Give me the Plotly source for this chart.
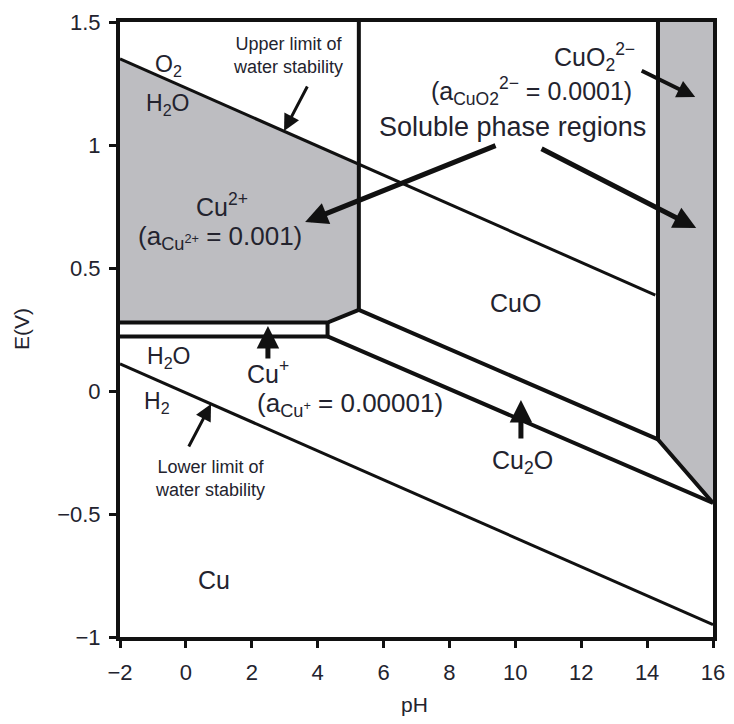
import plotly.graph_objects as go

# ---- data (pH, E in V) ----
upper_water_pH = [-2, 14.25]
upper_water_E = [1.35, 0.39]
lower_water_pH = [-2, 16]
lower_water_E = [0.11, -0.95]

cu2_region_pH = [-2, 5.25, 5.25, 4.3, -2]
cu2_region_E = [1.35, 0.92, 0.33, 0.278, 0.278]

cuo2_region_pH = [14.33, 16, 16, 14.33]
cuo2_region_E = [1.5, 1.5, -0.455, -0.197]

cup_bottom_pH = [-2, 4.3, 4.3]
cup_bottom_E = [0.222, 0.222, 0.278]

cuo_cu2o_pH = [5.25, 14.33]
cuo_cu2o_E = [0.33, -0.197]
cu2o_cu_pH = [4.3, 16]
cu2o_cu_E = [0.222, -0.455]
cuo_cuo2_pH = [14.33, 14.33, 16]
cuo_cuo2_E = [1.5, -0.197, -0.455]
cu2_cuo_pH = [5.25, 5.25]
cu2_cuo_E = [1.5, 0.33]

x_ticks = [-2, 0, 2, 4, 6, 8, 10, 12, 14, 16]
y_ticks = [-1, -0.5, 0, 0.5, 1, 1.5]

GRAY = "#bdbdc1"
TXT = "#23232e"
FONT = "Liberation Sans, Arial, sans-serif"

fig = go.Figure()

def poly(xs, ys):
    fig.add_trace(go.Scatter(x=xs, y=ys, fill="toself", fillcolor=GRAY,
                             mode="lines", line=dict(width=0, color=GRAY),
                             hoverinfo="skip", showlegend=False))

def line(xs, ys, w=4):
    fig.add_trace(go.Scatter(x=xs, y=ys, mode="lines",
                             line=dict(color="#111111", width=w),
                             hoverinfo="skip", showlegend=False))

poly(cu2_region_pH, cu2_region_E)
poly(cuo2_region_pH, cuo2_region_E)

line(upper_water_pH, upper_water_E, 3)
line(lower_water_pH, lower_water_E, 3)
line(cu2_region_pH[2:], cu2_region_E[2:])
line(cup_bottom_pH, cup_bottom_E)
line(cuo_cu2o_pH, cuo_cu2o_E)
line(cu2o_cu_pH, cu2o_cu_E)
line(cuo_cuo2_pH, cuo_cuo2_E)
line(cu2_cuo_pH, cu2_cuo_E)

annotations = []

def txt(x, y, s, size=24):
    annotations.append(dict(x=x, y=y, xref="x", yref="y", text=s, showarrow=False,
                            xanchor="center", yanchor="middle",
                            font=dict(size=size, color=TXT, family=FONT)))

def arrow(x0, y0, x1, y1, w=4, hs=1.0):
    annotations.append(dict(x=x1, y=y1, ax=x0, ay=y0, xref="x", yref="y",
                            axref="x", ayref="y", text="", showarrow=True,
                            arrowhead=2, arrowsize=hs, arrowwidth=w,
                            arrowcolor="#111111", standoff=0, startstandoff=0))

txt(-0.54, 1.325, "O<sub>2</sub>", 23)
txt(-0.57, 1.163, "H<sub>2</sub>O", 23)
txt(3.1, 1.362, "Upper limit of<br>water stability", 18)
txt(1.1, 0.756, "Cu<sup>2+</sup>", 25)
txt(1.04, 0.626, "(a<sub>Cu<sup>2+</sup></sub> = 0.001)", 26)
txt(9.9, 1.073, "Soluble phase regions", 27)
txt(12.39, 1.358, "CuO<sub>2</sub><sup>2\u2212</sup>", 25)
txt(10.48, 1.22, "(a<sub>CuO2</sub><sup>2\u2212</sup> = 0.0001)", 25)
txt(9.99, 0.358, "CuO", 25)
txt(-0.54, 0.138, "H<sub>2</sub>O", 23)
txt(-0.88, -0.045, "H<sub>2</sub>", 23)
txt(2.49, 0.077, "Cu<sup>+</sup>", 25)
txt(4.98, -0.053, "(a<sub>Cu<sup>+</sup></sub> = 0.00001)", 26)
txt(10.23, -0.289, "Cu<sub>2</sub>O", 25)
txt(0.73, -0.354, "Lower limit of<br>water stability", 18)
txt(0.85, -0.768, "Cu", 25)

arrow(3.71, 1.244, 2.98, 1.057, 3, 1.1)
arrow(9.445, 1.0, 3.62, 0.687, 5, 0.9)
arrow(10.75, 0.988, 15.49, 0.663, 5, 0.9)
arrow(13.79, 1.305, 15.46, 1.195, 4, 0.9)
arrow(2.49, 0.126, 2.49, 0.264, 5, 0.9)
arrow(10.17, -0.199, 10.17, -0.037, 5, 0.9)
arrow(0.064, -0.232, 0.763, -0.053, 3, 1.1)

annotations.append(dict(x=-0.166, y=0.5, xref="paper", yref="paper", text="E(V)",
                        showarrow=False, textangle=-90, xanchor="center", yanchor="middle",
                        font=dict(size=21, color=TXT, family=FONT)))
annotations.append(dict(x=0.497, y=-0.11, xref="paper", yref="paper", text="pH",
                        showarrow=False, xanchor="center", yanchor="middle",
                        font=dict(size=21, color=TXT, family=FONT)))

# page body has an 8px margin, so the figure is sized to sit where the reference is
fig.update_layout(
    width=726, height=716,
    margin=dict(l=112, r=21, t=14, b=87, autoexpand=False),
    paper_bgcolor="white", plot_bgcolor="white",
    showlegend=False,
    font=dict(family=FONT, color=TXT, size=22),
    annotations=annotations,
)

fig.update_xaxes(range=[-2, 16], tickvals=x_ticks, showgrid=False, zeroline=False,
                 showline=True, linecolor="#111111", linewidth=4, mirror=True,
                 ticks="outside", ticklen=7, tickwidth=3, tickcolor="#111111",
                 automargin=False,
                 ticklabelstandoff=6, tickfont=dict(size=22, color=TXT, family=FONT))
fig.update_yaxes(range=[-1, 1.5], tickvals=y_ticks, showgrid=False, zeroline=False,
                 showline=True, linecolor="#111111", linewidth=4, mirror=True,
                 ticks="outside", ticklen=7, tickwidth=3, tickcolor="#111111",
                 automargin=False,
                 ticklabelstandoff=4, tickfont=dict(size=22, color=TXT, family=FONT))

fig.write_html("out.html")
